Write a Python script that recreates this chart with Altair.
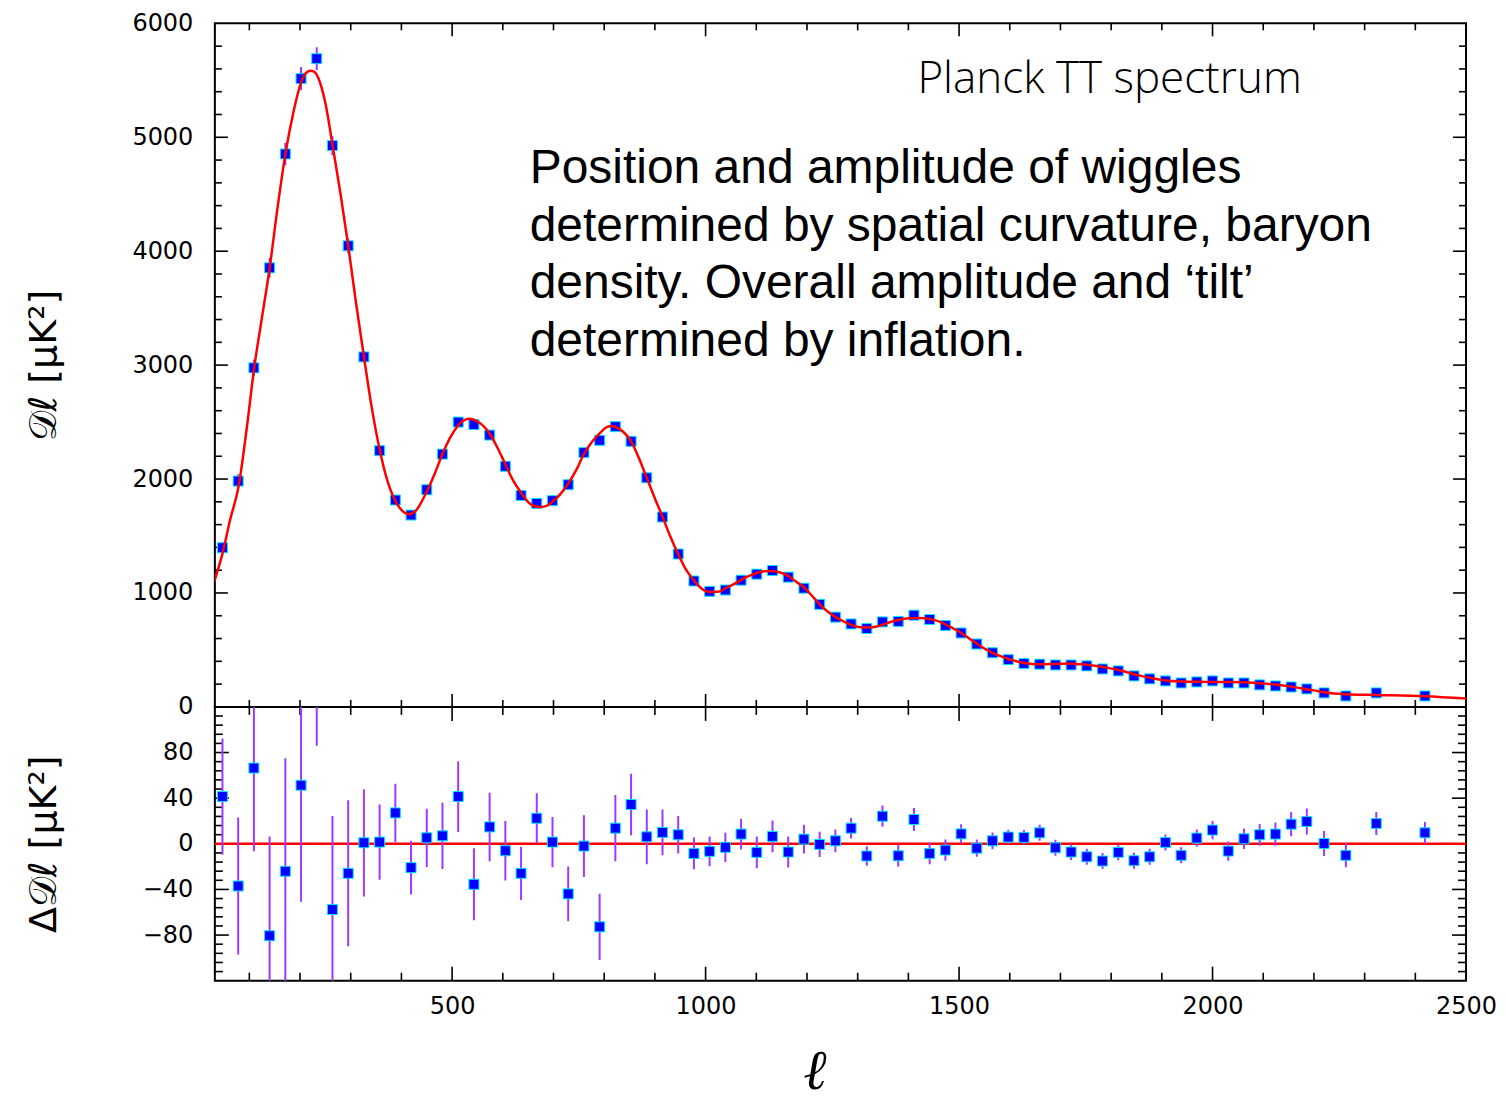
import altair as alt
import pandas as pd

# ---------------- data ----------------
ell = [47, 78, 109, 140, 171, 202, 233, 264, 295, 326, 357, 388, 419, 450, 481,
       512, 543, 574, 605, 636, 667, 698, 729, 760, 791, 822, 853, 884, 915, 946,
       977, 1008, 1039, 1070, 1101, 1132, 1163, 1194, 1225, 1256, 1287, 1318, 1349,
       1380, 1411, 1442, 1473, 1504, 1535, 1566, 1597, 1628, 1659, 1690, 1721, 1752,
       1783, 1814, 1845, 1876, 1907, 1938, 1969, 2000, 2031, 2062, 2093, 2124, 2155,
       2186, 2220, 2263, 2323, 2419]

dl = [1397, 1982, 2976, 3854, 4854, 5515, 5690, 4927, 4047, 3072, 2249, 1816, 1684,
      1906, 2219, 2500, 2478, 2386, 2112, 1856, 1786, 1810, 1950, 2232, 2340, 2460,
      2331, 2011, 1667, 1342, 1105, 1014, 1026, 1112, 1165, 1197, 1139, 1042, 900,
      788, 728, 688, 746, 750, 805, 767, 714, 649, 552, 475, 415, 381, 375, 368, 368,
      360, 333, 316, 272, 246, 228, 210, 219, 228, 210, 210, 193, 184, 175, 158, 123,
      96, 123, 96]

err = [51, 60, 73, 87, 99, 102, 100, 82, 64, 47, 33, 25.5, 23.5, 25.6, 29, 31, 31.6,
       30, 26, 23.4, 22, 22, 24, 27, 29, 29, 27, 24, 20, 16.5, 14, 13, 12.8, 13.5, 14,
       14, 13.5, 12.5, 11, 10, 9, 8.6, 9.3, 9.6, 10, 9.6, 9.3, 8.5, 7.6, 7.4, 6.5, 6.5,
       7, 7, 7, 7, 7, 7, 7, 7, 7, 7, 7.6, 8, 8.4, 9, 9.5, 10.2, 10.6, 11.4, 11, 10.5,
       10, 9.6]

resid = [41.4, -37, 66.4, -80.6, -24.1, 51.3, 186, -57.6, -25.9, 0.9, 1.5, 27.1, -20.9,
         5.2, 7, 41.4, -35.5, 14.8, -6.1, -25.9, 22.4, 1.5, -43.9, -2, -72.8, 13.7, 34.4,
         6.1, 10, 7.9, -8.4, -6.6, -3.1, 8.5, -7.5, 6.5, -7.2, 4.1, -0.5, 2.6, 13.7,
         -10.7, 24.2, -10.5, 21.3, -8.4, -5.5, 8.7, -3.8, 2.6, 5.9, 5.6, 9.6, -3.5, -7.2,
         -11.4, -15.1, -7.5, -14.8, -11.4, 1.2, -10.1, 5, 12, -6.4, 4.4, 7.9, 8.5, 17.2,
         19.6, 0.3, -10.1, 17.8, 9.6]

th_ell = [30, 47, 62, 79, 95, 110, 125, 140, 155, 171, 186, 202, 212, 220, 228, 236,
          250, 264, 280, 295, 310, 326, 341, 357, 372, 388, 402, 414, 428, 450, 465,
          481, 497, 512, 525, 535, 550, 574, 590, 605, 620, 636, 652, 672, 685, 698,
          714, 729, 745, 760, 775, 791, 805, 815, 830, 853, 868, 884, 900, 915, 930,
          946, 962, 977, 992, 1008, 1024, 1039, 1055, 1070, 1086, 1101, 1116, 1130,
          1147, 1163, 1178, 1194, 1209, 1225, 1240, 1256, 1272, 1287, 1302, 1317, 1333,
          1349, 1365, 1380, 1400, 1422, 1442, 1457, 1473, 1488, 1504, 1520, 1535, 1551,
          1566, 1582, 1597, 1613, 1628, 1659, 1690, 1721, 1737, 1752, 1768, 1783, 1799,
          1814, 1830, 1845, 1861, 1876, 1892, 1907, 1938, 1969, 2000, 2031, 2062, 2093,
          2124, 2155, 2186, 2200, 2220, 2263, 2323, 2419, 2500]
th_dl = [1090, 1345, 1640, 1940, 2450, 2990, 3420, 3850, 4360, 4850, 5200, 5480, 5565,
         5585, 5575, 5520, 5300, 4936, 4500, 4050, 3560, 3075, 2640, 2260, 1990, 1807,
         1720, 1690, 1720, 1890, 2040, 2220, 2370, 2470, 2520, 2529, 2505, 2400, 2270,
         2130, 1990, 1880, 1790, 1754, 1762, 1800, 1870, 1960, 2080, 2220, 2320, 2400,
         2455, 2465, 2440, 2330, 2190, 2010, 1830, 1670, 1500, 1340, 1200, 1110, 1040,
         1009, 1010, 1040, 1075, 1115, 1150, 1175, 1190, 1193, 1180, 1150, 1100, 1050,
         980, 900, 840, 790, 750, 720, 702, 696, 702, 720, 745, 762, 778, 781, 772, 755,
         725, 690, 650, 600, 555, 510, 475, 445, 420, 400, 385, 374, 377, 380, 375, 371,
         362, 351, 338, 325, 306, 287, 270, 257, 243, 231, 222, 220, 219, 219, 217, 208,
         196, 178, 155, 145, 128, 111, 105, 94, 73]

x_major = [500, 1000, 1500, 2000]
x_minor = [v for v in range(100, 2500, 100) if v % 500]
x_labels = [500, 1000, 1500, 2000, 2500]
top_y_major = [1000, 2000, 3000, 4000, 5000]
top_y_minor = [v for v in range(200, 6000, 200) if v % 1000]
top_y_labels = [0, 1000, 2000, 3000, 4000, 5000, 6000]
bot_y_major = [-80, -40, 0, 40, 80]
bot_y_minor = [v for v in range(-112, 120, 8) if v % 40]
bot_y_labels = [-80, -40, 0, 40, 80]

annot_title = "Planck TT spectrum"
annot_text = ("Position and amplitude of wiggles\n"
              "determined by spatial curvature, baryon\n"
              "density. Overall amplitude and \u2018tilt\u2019\n"
              "determined by inflation.")

# ---------------- layout constants ----------------
W, H1, H2 = 1252, 684, 274
X_DOM = [32, 2500]
BLUE, CYAN, VIOLET, RED = "#0000ff", "#00e8ff", "#9a3cff", "#ff0000"

xs = alt.Scale(domain=X_DOM, nice=False, zero=False)
ys_top = alt.Scale(domain=[0, 6000], nice=False, zero=False)
ys_bot = alt.Scale(domain=[-120, 120], nice=False, zero=False)

label_style = dict(ticks=False, domain=False, grid=False, labelFont="DejaVu Sans",
                   labelFontSize=24, labelColor="black", titleColor="black",
                   titleFontWeight="normal", format="d")

ax_top_y = alt.Axis(values=top_y_labels, labelPadding=22,
                    title="\U0001D49F\u2113    [\u03bcK\u00b2]",
                    titleFont="DejaVu Sans", titleFontSize=38, titleX=-170,
                    titleBaseline="middle", **label_style)
ax_bot_y = alt.Axis(values=bot_y_labels, labelPadding=22,
                    title="\u0394\U0001D49F\u2113    [\u03bcK\u00b2]",
                    titleFont="DejaVu Sans", titleFontSize=38, titleX=-170,
                    titleBaseline="middle", **label_style)
ax_bot_x = alt.Axis(values=x_labels, labelPadding=14, labelFlush=False,
                    labelOverlap=False, title="\u2113", titleFont="DejaVu Serif",
                    titleFontStyle="italic", titleFontSize=56, titleX=600, titleY=108,
                    titleBaseline="alphabetic", **label_style)

spec = pd.DataFrame({"ell": ell, "dl": dl, "err": err, "resid": resid})
spec["lo"] = spec["dl"] - spec["err"]
spec["hi"] = spec["dl"] + spec["err"]
spec["rlo"] = spec["resid"] - spec["err"]
spec["rhi"] = spec["resid"] + spec["err"]
theory = pd.DataFrame({"ell": th_ell, "dl": th_dl})


def tick_layers(xmaj, xmin, ymaj, ymin, H, yscale, xaxis, yaxis, lmaj, lmin):
    out = []
    for vals, ln in ((xmaj, lmaj), (xmin, lmin)):
        d = pd.DataFrame({"v": vals})
        out.append(alt.Chart(d).mark_rule(color="black", strokeWidth=1.6).encode(
            x=alt.X("v:Q", scale=xs, axis=xaxis), y=alt.value(H), y2=alt.value(H - ln)))
        out.append(alt.Chart(d).mark_rule(color="black", strokeWidth=1.6).encode(
            x=alt.X("v:Q", scale=xs, axis=xaxis), y=alt.value(0), y2=alt.value(ln)))
    for vals, ln in ((ymaj, lmaj), (ymin, lmin)):
        d = pd.DataFrame({"v": vals})
        out.append(alt.Chart(d).mark_rule(color="black", strokeWidth=1.6).encode(
            y=alt.Y("v:Q", scale=yscale, axis=yaxis), x=alt.value(0), x2=alt.value(ln)))
        out.append(alt.Chart(d).mark_rule(color="black", strokeWidth=1.6).encode(
            y=alt.Y("v:Q", scale=yscale, axis=yaxis), x=alt.value(W), x2=alt.value(W - ln)))
    return out


# ---------------- top panel ----------------
top_err = alt.Chart(spec).mark_rule(color=VIOLET, strokeWidth=2, clip=True).encode(
    x=alt.X("ell:Q", scale=xs, axis=None),
    y=alt.Y("lo:Q", scale=ys_top, axis=ax_top_y), y2="hi:Q")
top_pts = alt.Chart(spec).mark_square(size=100, filled=True, fill=BLUE, stroke=CYAN,
                                      strokeWidth=1, opacity=1, clip=True).encode(
    x=alt.X("ell:Q", scale=xs, axis=None),
    y=alt.Y("dl:Q", scale=ys_top, axis=ax_top_y))
top_line = alt.Chart(theory).mark_line(color=RED, strokeWidth=2.5, interpolate="monotone",
                                       clip=True).encode(
    x=alt.X("ell:Q", scale=xs, axis=None), y=alt.Y("dl:Q", scale=ys_top, axis=ax_top_y))
t1 = alt.Chart(pd.DataFrame({"t": [annot_title]})).mark_text(
    align="left", baseline="alphabetic", font="Open Sans", fontSize=44, fontWeight=300,
    color="black").encode(text="t:N", x=alt.value(703), y=alt.value(70))
t2 = alt.Chart(pd.DataFrame({"t": [annot_text]})).mark_text(
    align="left", baseline="alphabetic", font="Liberation Sans", fontSize=48,
    lineBreak="\n", lineHeight=57.5, color="black").encode(
    text="t:N", x=alt.value(315), y=alt.value(160))

top = alt.layer(
    *tick_layers(x_major, x_minor, top_y_major, top_y_minor, H1, ys_top, None, ax_top_y,
                 13, 7),
    top_err, top_pts, top_line, t1, t2
).properties(width=W, height=H1)

# ---------------- bottom panel ----------------
zero = alt.Chart(pd.DataFrame({"z": [0]})).mark_rule(color=RED, strokeWidth=2.5).encode(
    y=alt.Y("z:Q", scale=ys_bot, axis=ax_bot_y))
bot_err = alt.Chart(spec).mark_rule(color=VIOLET, strokeWidth=2, clip=True).encode(
    x=alt.X("ell:Q", scale=xs, axis=ax_bot_x),
    y=alt.Y("rlo:Q", scale=ys_bot, axis=ax_bot_y), y2="rhi:Q")
bot_pts = alt.Chart(spec).mark_square(size=100, filled=True, fill=BLUE, stroke=CYAN,
                                      strokeWidth=1, opacity=1, clip=True).encode(
    x=alt.X("ell:Q", scale=xs, axis=ax_bot_x),
    y=alt.Y("resid:Q", scale=ys_bot, axis=ax_bot_y))

bottom = alt.layer(
    *tick_layers(x_major, x_minor, bot_y_major, bot_y_minor, H2, ys_bot, ax_bot_x,
                 ax_bot_y, 14, 8),
    zero, bot_err, bot_pts
).properties(width=W, height=H2)

chart = alt.vconcat(top, bottom, spacing=0, bounds="flush").properties(
    padding={"left": 17, "top": 2, "right": 0, "bottom": -10},
    background="white"
).configure_view(stroke="black", strokeWidth=2)

chart.save("out.html", embed_options={"renderer": "svg", "actions": False})
